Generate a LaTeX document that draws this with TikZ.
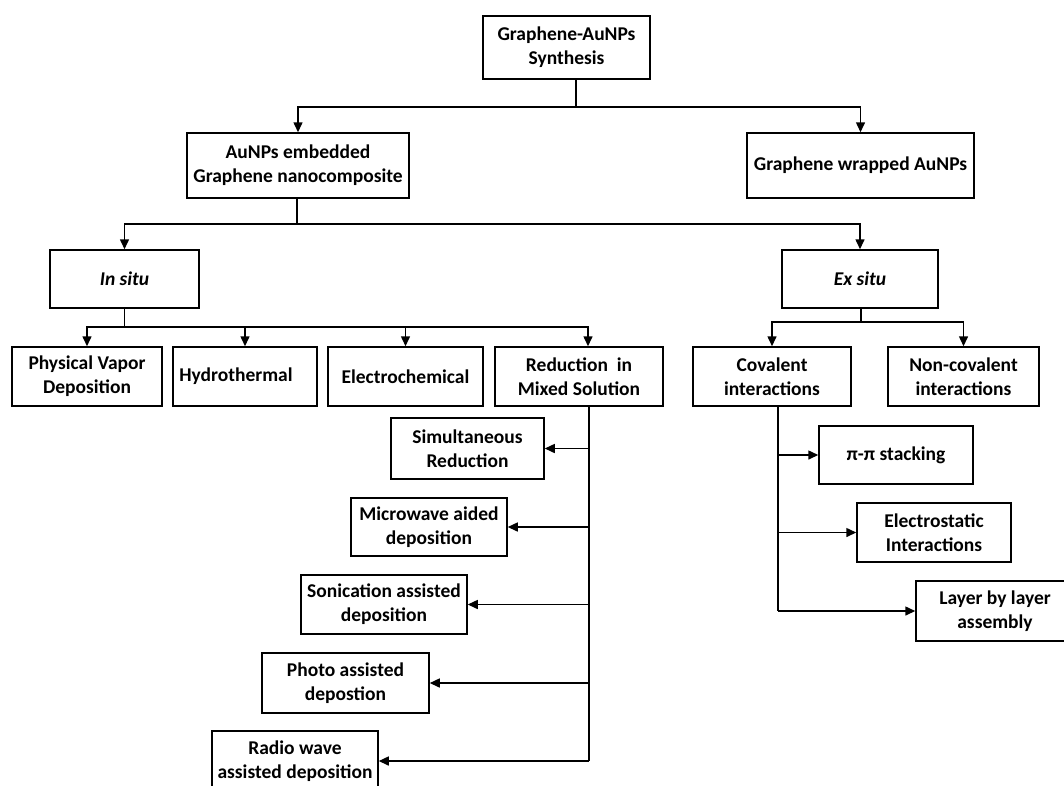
\documentclass[tikz,border=0pt]{standalone}
\usepackage{fontspec}
\setmainfont{Carlito}
\usetikzlibrary{arrows.meta}
\tikzset{
  bx/.style={draw, line width=1.5pt, align=center, inner sep=0pt, font=\bfseries\fontsize{19.5}{24}\selectfont},
  ln/.style={line width=1.5pt},
  arr/.style={line width=1.5pt, -{Triangle[length=10pt,width=9pt]}},
}
\newcommand{\bxat}[6]{\node[bx, minimum width=#4pt, minimum height=#5pt] (#1) at (#2,#3) {#6};}
\begin{document}
\begin{tikzpicture}[x=1pt,y=-1pt]
\useasboundingbox (0,0) rectangle (1064,785);
% boxes
\bxat{top}{566.5}{47.5}{167}{63}{Graphene-AuNPs\\Synthesis}
\bxat{emb}{298}{165.5}{222}{65}{AuNPs embedded\\Graphene nanocomposite}
\bxat{wrap}{860.5}{165.5}{227}{65}{Graphene wrapped AuNPs}
\bxat{insitu}{124.5}{279}{149}{58}{\textit{In situ}}
\bxat{exsitu}{860}{279}{156}{58}{\textit{Ex situ}}
\bxat{pvd}{87}{376.5}{150}{59}{Physical Vapor\\Deposition}
\bxat{hydro}{245}{376.5}{144}{59}{Hydrothermal\hspace*{18pt}}
\bxat{electro}{405.5}{376.5}{155}{59}{Electrochemical}
\bxat{red}{579}{376.5}{168}{59}{Reduction\ \ in\\Mixed Solution}
\bxat{cov}{772}{376.5}{158}{59}{Covalent\\interactions}
\bxat{noncov}{963.5}{376.5}{151}{59}{Non-covalent\\interactions}
\bxat{sim}{467.5}{448.5}{153}{61}{Simultaneous\\Reduction}
\bxat{micro}{429}{527}{156}{58}{Microwave aided\\deposition}
\bxat{sonic}{384}{604.5}{166}{59}{Sonication assisted\\deposition}
\bxat{photo}{345.5}{683}{167}{60}{Photo assisted\\depostion}
\bxat{radio}{295}{761}{166}{60}{Radio wave\\assisted deposition}
\bxat{pipi}{896}{455}{154}{58}{π-π stacking}
\bxat{elecst}{934}{532.5}{154}{59}{Electrostatic\\Interactions}
\bxat{layer}{995}{611}{158}{60}{Layer by layer\\assembly}
% junctions
\coordinate (j1) at (576,107);
\coordinate (j2) at (297,224);
\coordinate (j3) at (124.5,327);
\coordinate (r1) at (588,327);
\coordinate (j4) at (861,322);
\coordinate (rs) at (589,406);
\coordinate (re) at (589,761);
\coordinate (cs) at (778,406);
\coordinate (ce) at (778,611);
% level 1
\draw[ln] (j1 |- top.south) -- (j1);
\draw[arr] (j1) -| (emb.north);
\draw[arr] (j1) -| (wrap.north);
% level 2
\draw[ln] (j2 |- emb.south) -- (j2);
\draw[arr] (j2) -| (insitu.north);
\draw[arr] (j2) -| (exsitu.north);
% in situ
\draw[ln] (insitu.south) -- (j3);
\draw[arr] (j3) -| (pvd.north);
\draw[arr] (j3) -| (hydro.north);
\draw[arr] (j3) -| (electro.north);
\draw[arr] (j3) -- (r1) -- (r1 |- red.north);
% ex situ
\draw[ln] (j4 |- exsitu.south) -- (j4);
\draw[arr] (j4) -| (cov.north);
\draw[arr] (j4) -| (noncov.north);
% reduction branch
\draw[ln] (rs) -- (re);
\draw[arr] (sim.east -| rs) -- (sim.east);
\draw[arr] (micro.east -| rs) -- (micro.east);
\draw[arr] (sonic.east -| rs) -- (sonic.east);
\draw[arr] (photo.east -| rs) -- (photo.east);
\draw[arr] (re) -- (radio.east);
% covalent branch
\draw[ln] (cs) -- (ce);
\draw[arr] (pipi.west -| cs) -- (pipi.west);
\draw[arr] (elecst.west -| cs) -- (elecst.west);
\draw[arr] (ce) -- (layer.west);
\end{tikzpicture}
\end{document}
